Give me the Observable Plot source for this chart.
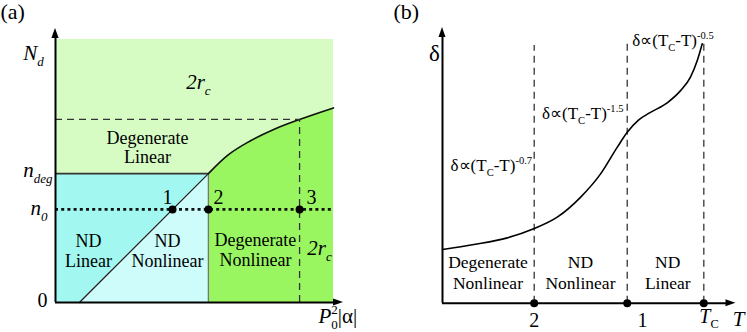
<!DOCTYPE html>
<html><head><meta charset="utf-8">
<script src="https://cdn.jsdelivr.net/npm/d3@7"></script>
<script src="https://cdn.jsdelivr.net/npm/@observablehq/plot@0.6"></script>
<style>
body{margin:0;background:#fff}
#wrap{display:flex;width:747px;height:332px;background:#fff}
#wrap svg text, #wrap svg tspan{font-family:"Liberation Serif","Times New Roman",serif !important}
</style>
</head><body><div id="wrap"></div>
<script>
// ---------- Panel (a) data (abstract units: P0^2|alpha| and N_d) ----------
const nDeg = 4.9, n0 = 3.54;
const diagA_x = [0.86, 5.5], diagA_y = [0, 4.9];
const boundaryA_x = 5.5;
const curveA_x = [5.5, 6.2, 7.0, 7.85, 8.78, 10];
const curveA_y = [4.9, 5.6, 6.14, 6.58, 6.96, 7.4];
const dashA_x = 8.78, dashA_y = 6.96;
const pointsA_x = [4.21, 5.5, 8.78];
const pointsA_labels = ["1", "2", "3"];
const pointsA_labelX = [4.03, 5.86, 9.21];
const regionsA_labels = ["ND\nLinear", "ND\nNonlinear", "Degenerate\nNonlinear", "Degenerate\nLinear"];
const regionsA_x = [1.19, 4.03, 7.19, 3.31];
const regionsA_y = [1.98, 1.98, 2.02, 5.91];
const rcA_x = [5.14, 9.5], rcA_y = [8.37, 2.05];
const yTicksA = [nDeg, n0, 0];
const yTickLabelsA = ["n_{deg}", "n_{0}", "0"];

// ---------- Panel (b) data (T scaled so that T_C = 1, delta in 0..1) ----------
const curveB_T = [0.0, 0.12, 0.248, 0.349, 0.439, 0.528, 0.605, 0.669, 0.707, 0.75, 0.796, 0.86, 0.911, 0.949, 0.975, 0.994];
const curveB_d = [0.195, 0.213, 0.237, 0.270, 0.312, 0.384, 0.469, 0.566, 0.620, 0.664, 0.692, 0.727, 0.771, 0.820, 0.880, 0.941];
const boundariesB_T = [0.351, 0.707, 1.0];
const dashTopsB = [0.935, 0.94, 0.94];
const boundaryLabelsB = ["2", "1", "~{T}_{C}"];
const boundaryLabelsB_T = [0.351, 0.765, 1.02];
const regionsB_labels = ["Degenerate\nNonlinear", "ND\nNonlinear", "ND\nLinear"];
const regionsB_T = [0.174, 0.528, 0.862];
const regionsB_d = [0.115, 0.115, 0.115];
const powerLabels = ["δ∝(T_{C}-T)^{-0.7}", "δ∝(T_{C}-T)^{-1.5}", "δ∝(T_{C}-T)^{-0.5}"];
const powerLabels_T = [0.031, 0.381, 0.726];
const powerLabels_d = [0.499, 0.687, 0.953];

const FONT = "Liberation Serif, Times New Roman, serif";
const cLightGreen = "#d6fcc4", cCyan = "#a2f8f1", cLightCyan = "#cdfcfb", cGreen = "#9af660";

function arrowRight(x0, x1, y, h) {
  return Plot.areaY([{x: x0, lo: y - h, hi: y + h}, {x: x1, lo: y, hi: y}], {x: "x", y1: "lo", y2: "hi", fill: "black"});
}
function arrowUp(y0, y1, x, w) {
  return Plot.areaX([{y: y0, lo: x - w, hi: x + w}, {y: y1, lo: x, hi: x}], {y: "y", x1: "lo", x2: "hi", fill: "black"});
}

const diagRows = diagA_x.map((x, i) => ({x, y: diagA_y[i]}));
const curveARows = curveA_x.map((x, i) => ({x, y: curveA_y[i]}));

const plotA = Plot.plot({
  width: 380, height: 332, margin: 0,
  x: {domain: [0, 10], range: [55, 333]},
  y: {domain: [0, 10], range: [302, 39]},
  axis: null,
  style: {background: "white", overflow: "visible"},
  marks: [
    Plot.rect([0], {x1: 0, x2: 10, y1: 0, y2: 10, fill: cLightGreen}),
    Plot.areaX(diagRows, {y: "y", x1: 0, x2: "x", fill: cCyan}),
    Plot.areaX(diagRows, {y: "y", x1: "x", x2: boundaryA_x, fill: cLightCyan}),
    Plot.areaY(curveARows, {x: "x", y1: 0, y2: "y", curve: "monotone-x", fill: cGreen}),
    Plot.ruleY([nDeg], {x1: 0, x2: boundaryA_x, stroke: "#333", strokeWidth: 1.6}),
    Plot.ruleX([boundaryA_x], {y1: 0, y2: nDeg, stroke: "#777", strokeWidth: 1.3}),
    Plot.line(diagRows, {x: "x", y: "y", stroke: "#222", strokeWidth: 1.3}),
    Plot.line(curveARows, {x: "x", y: "y", curve: "monotone-x", stroke: "#111", strokeWidth: 1.6}),
    Plot.ruleY([dashA_y], {x1: 0, x2: dashA_x, stroke: "#333", strokeWidth: 1.3, strokeDasharray: "7,5"}),
    Plot.ruleX([dashA_x], {y1: 0, y2: dashA_y, stroke: "#333", strokeWidth: 1.3, strokeDasharray: "7,5"}),
    Plot.ruleY([n0], {x1: 0, x2: 10, stroke: "#111", strokeWidth: 2.6, strokeDasharray: "3,3.2"}),
    Plot.ruleX([0], {y1: 0, y2: 10.06, stroke: "black", strokeWidth: 2}),
    Plot.ruleY([0], {x1: 0, x2: 10.02, stroke: "black", strokeWidth: 2}),
    arrowUp(10.04, 10.42, 0, 0.13),
    arrowRight(10.0, 10.36, 0, 0.135),
    Plot.dot(pointsA_x, {x: d => d, y: n0, r: 4, fill: "black"}),
    Plot.text(pointsA_labels, {x: (d, i) => pointsA_labelX[i], y: n0, dy: -12, text: d => d, fontSize: 20, fontFamily: FONT}),
    Plot.text(regionsA_labels, {x: (d, i) => regionsA_x[i], y: (d, i) => regionsA_y[i], text: d => d, fontSize: 18, lineHeight: 1.1, fontFamily: FONT}),
    Plot.text(["2r_{c}", "2r_{c}"], {x: (d, i) => rcA_x[i], y: (d, i) => rcA_y[i], text: d => d, fontSize: 21, fontStyle: "italic", fontFamily: FONT}),
    Plot.text([yTickLabelsA[0]], {x: 0, y: yTicksA[0], dx: -3, dy: -3, text: d => d, textAnchor: "end", fontSize: 21, fontStyle: "italic", fontFamily: FONT}),
    Plot.text([yTickLabelsA[1]], {x: 0, y: yTicksA[1], dx: -8, dy: -1, text: d => d, textAnchor: "end", fontSize: 21, fontStyle: "italic", fontFamily: FONT}),
    Plot.text([yTickLabelsA[2]], {x: 0, y: yTicksA[2], dx: -8, dy: -2, text: d => d, textAnchor: "end", fontSize: 20, fontFamily: FONT}),
    Plot.text(["N_{d}"], {x: 0, y: 9.47, dx: -22, text: d => d, fontSize: 21, fontStyle: "italic", fontFamily: FONT}),
    Plot.text(["~{P}_{0}^{2}|α|"], {x: 10, y: 0, dx: -15, dy: 14, text: d => d, textAnchor: "start", fontSize: 21, fontFamily: FONT}),
    Plot.text(["(a)"], {frameAnchor: "top-left", dx: 0, dy: 3, text: d => d, fontSize: 22, fontFamily: FONT})
  ]
});

const curveBRows = curveB_T.map((T, i) => ({T, d: curveB_d[i]}));

const plotB = Plot.plot({
  width: 367, height: 332, margin: 0,
  x: {domain: [0, 1], range: [62, 323.3]},
  y: {domain: [0, 1], range: [302.7, 27]},
  axis: null,
  style: {background: "white", overflow: "visible"},
  marks: [
    Plot.ruleX(boundariesB_T, {x: d => d, y1: 0, y2: (d, i) => dashTopsB[i], stroke: "#444", strokeWidth: 1.4, strokeDasharray: "7,5"}),
    Plot.line(curveBRows, {x: "T", y: "d", curve: "monotone-x", stroke: "black", strokeWidth: 1.6}),
    Plot.ruleX([0], {y1: 0, y2: 0.97, stroke: "black", strokeWidth: 2}),
    Plot.ruleY([0], {x1: 0, x2: 1.09, stroke: "black", strokeWidth: 2}),
    arrowUp(0.964, 1.0, 0, 0.0134),
    arrowRight(1.085, 1.123, 0, 0.0127),
    Plot.dot(boundariesB_T, {x: d => d, y: 0, r: 4, fill: "black"}),
    Plot.text(boundaryLabelsB.slice(0, 2), {x: (d, i) => boundaryLabelsB_T[i], y: 0, dy: 17, text: d => d, fontSize: 20, fontFamily: FONT}),
    Plot.text([boundaryLabelsB[2]], {x: boundaryLabelsB_T[2], y: 0, dy: 13, text: d => d, fontSize: 20, fontFamily: FONT}),
    Plot.text(["T"], {x: 1.133, y: 0, dy: 16, text: d => d, fontSize: 21, fontStyle: "italic", fontFamily: FONT}),
    Plot.text(["δ"], {x: 0, y: 0.906, dx: -8, text: d => d, fontSize: 23, fontFamily: FONT}),
    Plot.text(regionsB_labels, {x: (d, i) => regionsB_T[i], y: (d, i) => regionsB_d[i], text: d => d, fontSize: 17.5, lineHeight: 1.25, fontFamily: FONT}),
    Plot.text(powerLabels, {x: (d, i) => powerLabels_T[i], y: (d, i) => powerLabels_d[i], text: d => d, textAnchor: "start", fontSize: 17, fontFamily: FONT}),
    Plot.text(["(b)"], {frameAnchor: "top-left", dx: 13, dy: 3, text: d => d, fontSize: 22, fontFamily: FONT})
  ]
});

const wrap = document.getElementById("wrap");
wrap.appendChild(plotA);
wrap.appendChild(plotB);

// Render simple sub/superscript markup (_{..}, ^{..}, ~{..} = italic) as tspans
function richify(root) {
  const ns = "http://www.w3.org/2000/svg";
  root.querySelectorAll("text").forEach(t => {
    if (t.querySelector("tspan")) return;
    const s = t.textContent;
    if (!/[_^~]\{/.test(s)) return;
    const fs = parseFloat(getComputedStyle(t).fontSize);
    t.textContent = "";
    const re = /([_^~])\{([^}]*)\}|([^_^~]+)/g;
    let shift = 0, m, prevSub = null;
    while ((m = re.exec(s))) {
      const ts = document.createElementNS(ns, "tspan");
      let target = 0;
      if (m[1] === "_" || m[1] === "^") {
        const size = fs * 0.62;
        ts.setAttribute("font-size", size);
        target = m[1] === "_" ? fs * 0.28 : -fs * 0.42;
        ts.textContent = m[2];
        if (m[1] === "^" && prevSub) ts.setAttribute("dx", -prevSub.length * size * 0.5);
        prevSub = m[1] === "_" ? m[2] : null;
      } else {
        ts.textContent = m[1] === "~" ? m[2] : m[3];
        if (m[1] === "~") ts.setAttribute("font-style", "italic");
        prevSub = null;
      }
      if (target !== shift) ts.setAttribute("dy", target - shift);
      shift = target;
      t.appendChild(ts);
    }
  });
}
richify(wrap);
</script>
</body></html>
